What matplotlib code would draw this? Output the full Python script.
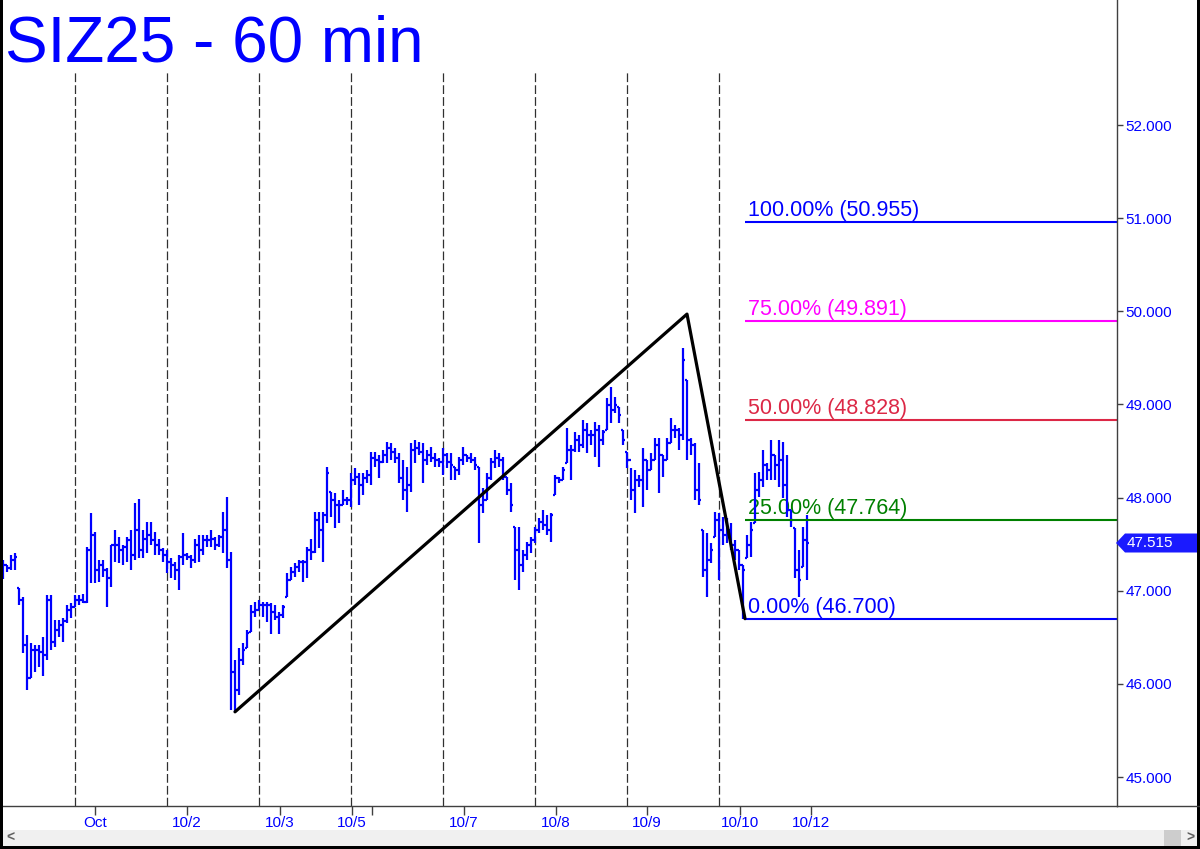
import matplotlib
matplotlib.use("Agg")
import matplotlib.pyplot as plt
from matplotlib.patches import Rectangle, Polygon
from matplotlib.lines import Line2D

plt.rcParams['font.family'] = ['Liberation Sans', 'DejaVu Sans']

TITLE = "SIZ25 - 60 min"

# hourly OHLC bars, oldest first
highs = [
    47.33, 47.28, 47.38, 47.40, 47.03, 46.93, 46.52, 46.44, 46.42, 46.42,
    46.50, 46.95, 46.95, 46.69, 46.69, 46.71, 46.85, 46.87, 46.95, 46.95,
    46.97, 47.47, 47.83, 47.63, 47.33, 47.33, 47.24, 47.49, 47.65, 47.58,
    47.49, 47.58, 47.65, 47.94, 47.98, 47.65, 47.74, 47.74, 47.63, 47.56,
    47.46, 47.44, 47.35, 47.31, 47.38, 47.62, 47.40, 47.38, 47.56, 47.60,
    47.60, 47.60, 47.65, 47.58, 47.60, 47.84, 48.01, 47.42, 46.26, 46.39,
    46.44, 46.58, 46.85, 46.88, 46.90, 46.88, 46.88, 46.87, 46.85, 46.77,
    46.85, 47.19, 47.25, 47.30, 47.33, 47.33, 47.47, 47.56, 47.84, 47.84,
    47.84, 48.33, 48.06, 48.05, 47.97, 48.08, 48.01, 48.26, 48.32, 48.26,
    48.26, 48.30, 48.49, 48.49, 48.46, 48.51, 48.60, 48.59, 48.53, 48.48,
    48.40, 48.33, 48.59, 48.62, 48.60, 48.59, 48.51, 48.54, 48.48, 48.42,
    48.53, 48.48, 48.48, 48.33, 48.44, 48.54, 48.46, 48.48, 48.44, 48.33,
    48.10, 48.26, 48.42, 48.51, 48.48, 48.44, 48.22, 48.16, 47.68, 47.68,
    47.44, 47.52, 47.58, 47.68, 47.78, 47.87, 47.81, 47.83, 48.24, 48.22,
    48.33, 48.75, 48.56, 48.70, 48.67, 48.83, 48.80, 48.73, 48.81, 48.78,
    48.73, 49.07, 49.19, 49.08, 48.97, 48.73, 48.49, 48.32, 48.30, 48.24,
    48.53, 48.40, 48.48, 48.64, 48.64, 48.46, 48.64, 48.85, 48.78, 48.75,
    49.61, 49.26, 48.64, 48.59, 48.37, 47.65, 47.62, 47.51, 47.84, 47.83,
    47.79, 47.78, 47.73, 47.54, 47.44, 47.28, 47.60, 47.74, 48.26, 48.28,
    48.51, 48.37, 48.62, 48.46, 48.62, 48.60, 48.46, 47.87, 47.67, 47.44,
    47.68, 47.81,
]
lows = [
    47.13, 47.20, 47.22, 47.22, 46.85, 46.33, 45.93, 46.06, 46.13, 46.18,
    46.09, 46.26, 46.36, 46.40, 46.50, 46.45, 46.65, 46.71, 46.83, 46.85,
    46.87, 46.87, 47.08, 47.08, 47.09, 47.15, 46.83, 47.04, 47.31, 47.30,
    47.28, 47.31, 47.22, 47.33, 47.35, 47.35, 47.40, 47.49, 47.38, 47.38,
    47.31, 47.19, 47.14, 47.11, 47.01, 47.28, 47.33, 47.24, 47.30, 47.31,
    47.38, 47.47, 47.47, 47.44, 47.47, 47.40, 47.24, 45.72, 45.70, 45.88,
    46.20, 46.39, 46.56, 46.72, 46.79, 46.72, 46.66, 46.54, 46.69, 46.54,
    46.71, 46.93, 47.11, 47.15, 47.20, 47.09, 47.14, 47.33, 47.40, 47.46,
    47.31, 47.73, 47.79, 47.67, 47.73, 47.92, 47.92, 47.90, 48.13, 47.92,
    48.03, 48.16, 48.13, 48.33, 48.21, 48.37, 48.37, 48.40, 48.37, 48.16,
    47.97, 47.84, 48.06, 48.37, 48.46, 48.16, 48.35, 48.38, 48.33, 48.33,
    48.24, 48.32, 48.19, 48.19, 48.24, 48.35, 48.38, 48.37, 48.30, 47.51,
    47.83, 47.97, 48.19, 48.32, 48.33, 48.19, 48.03, 47.84, 47.11, 47.01,
    47.20, 47.33, 47.40, 47.51, 47.62, 47.65, 47.60, 47.52, 48.03, 48.16,
    48.19, 48.37, 48.19, 48.49, 48.49, 48.53, 48.48, 48.56, 48.44, 48.33,
    48.56, 48.73, 48.80, 48.91, 48.80, 48.56, 48.32, 47.97, 47.83, 48.11,
    47.90, 48.08, 48.30, 48.40, 48.05, 48.22, 48.40, 48.59, 48.64, 48.51,
    48.62, 48.40, 48.46, 47.97, 47.92, 47.15, 46.93, 47.30, 47.58, 47.11,
    47.49, 47.51, 47.44, 47.33, 47.22, 46.70, 47.35, 47.36, 47.73, 48.01,
    48.11, 48.19, 48.19, 48.19, 48.11, 48.00, 47.79, 47.68, 47.14, 46.93,
    47.25, 47.11,
]
opens = [
    47.20, 47.28, 47.24, 47.33, 47.03, 46.90, 46.42, 46.06, 46.36, 46.36,
    46.34, 46.31, 46.90, 46.45, 46.58, 46.63, 46.67, 46.79, 46.83, 46.90,
    46.90, 46.88, 47.44, 47.60, 47.22, 47.28, 47.22, 47.14, 47.49, 47.49,
    47.44, 47.47, 47.54, 47.38, 47.65, 47.44, 47.56, 47.60, 47.54, 47.49,
    47.44, 47.38, 47.31, 47.28, 47.22, 47.36, 47.38, 47.36, 47.33, 47.49,
    47.44, 47.54, 47.54, 47.56, 47.49, 47.58, 47.65, 47.33, 46.13, 45.93,
    46.26, 46.39, 46.56, 46.77, 46.79, 46.85, 46.85, 46.85, 46.77, 46.72,
    46.74, 46.93, 47.11, 47.20, 47.25, 47.31, 47.31, 47.44, 47.42, 47.76,
    47.65, 47.81, 48.06, 47.97, 47.92, 47.92, 47.97, 47.97, 48.19, 48.22,
    48.13, 48.21, 48.24, 48.42, 48.40, 48.38, 48.46, 48.53, 48.49, 48.42,
    48.21, 48.08, 48.13, 48.51, 48.53, 48.49, 48.40, 48.46, 48.42, 48.40,
    48.38, 48.46, 48.38, 48.33, 48.30, 48.40, 48.46, 48.42, 48.40, 48.33,
    47.92, 47.97, 48.21, 48.38, 48.42, 48.40, 48.22, 48.08, 47.68, 47.44,
    47.28, 47.38, 47.49, 47.54, 47.65, 47.74, 47.71, 47.65, 48.03, 48.21,
    48.19, 48.37, 48.51, 48.51, 48.62, 48.56, 48.73, 48.67, 48.67, 48.73,
    48.62, 48.73, 48.99, 48.94, 48.97, 48.73, 48.49, 48.40, 48.08, 48.19,
    48.19, 48.40, 48.30, 48.40, 48.56, 48.46, 48.40, 48.59, 48.73, 48.73,
    48.67, 49.26, 48.62, 48.56, 48.08, 47.65, 47.22, 47.33, 47.58, 47.76,
    47.65, 47.60, 47.65, 47.49, 47.44, 47.28, 47.35, 47.49, 47.73, 48.08,
    48.19, 48.35, 48.30, 48.46, 48.35, 48.40, 48.13, 47.87, 47.67, 47.22,
    47.25, 47.54,
]
closes = [
    47.28, 47.24, 47.33, 47.36, 46.90, 46.42, 46.06, 46.36, 46.36, 46.34,
    46.31, 46.90, 46.45, 46.58, 46.63, 46.67, 46.79, 46.83, 46.90, 46.90,
    46.88, 47.44, 47.60, 47.22, 47.28, 47.22, 47.14, 47.49, 47.49, 47.44,
    47.47, 47.54, 47.38, 47.65, 47.44, 47.56, 47.60, 47.54, 47.49, 47.44,
    47.38, 47.31, 47.28, 47.22, 47.36, 47.38, 47.36, 47.33, 47.49, 47.44,
    47.54, 47.54, 47.56, 47.49, 47.58, 47.65, 47.33, 46.13, 45.93, 46.26,
    46.36, 46.55, 46.77, 46.79, 46.85, 46.85, 46.85, 46.77, 46.72, 46.74,
    46.83, 47.11, 47.20, 47.25, 47.31, 47.31, 47.44, 47.42, 47.76, 47.65,
    47.81, 48.26, 47.97, 47.92, 47.92, 47.97, 47.97, 48.19, 48.22, 48.13,
    48.21, 48.24, 48.42, 48.40, 48.38, 48.46, 48.53, 48.49, 48.42, 48.21,
    48.08, 48.13, 48.51, 48.53, 48.49, 48.40, 48.46, 48.42, 48.40, 48.38,
    48.46, 48.38, 48.35, 48.30, 48.40, 48.46, 48.42, 48.40, 48.35, 47.92,
    47.97, 48.21, 48.38, 48.42, 48.40, 48.22, 48.08, 47.92, 47.44, 47.28,
    47.38, 47.49, 47.54, 47.65, 47.74, 47.71, 47.65, 47.81, 48.21, 48.19,
    48.30, 48.51, 48.51, 48.62, 48.56, 48.73, 48.67, 48.67, 48.73, 48.62,
    48.70, 48.99, 48.94, 48.99, 48.89, 48.62, 48.40, 48.08, 48.19, 48.19,
    48.40, 48.30, 48.40, 48.56, 48.46, 48.40, 48.59, 48.73, 48.73, 48.67,
    49.48, 48.62, 48.56, 48.08, 47.97, 47.22, 47.33, 47.44, 47.76, 47.65,
    47.60, 47.65, 47.49, 47.44, 47.28, 47.22, 47.49, 47.65, 48.08, 48.19,
    48.35, 48.30, 48.46, 48.35, 48.40, 48.13, 47.87, 47.76, 47.22, 47.11,
    47.54, 47.515,
]

day_breaks = [18, 41, 64, 87, 110, 133, 156, 179]
date_ticks = [23, 46, 69.25, 87.25, 92.25, 115.25, 138.25, 161, 184.25, 202]
date_labels = ['Oct', '10/2', '10/3', '10/5', '', '10/7', '10/8', '10/9', '10/10', '10/12']
price_ticks = [45, 46, 47, 48, 49, 50, 51, 52]

# A-B-C swing
abc_x = [58, 171, 185.5]
abc_y = [45.70, 49.97, 46.70]

fib_pcts = ['0.00%', '25.00%', '50.00%', '75.00%', '100.00%']
fib_levels = [46.700, 47.764, 48.828, 49.891, 50.955]
fib_colors = ['#0000ff', '#008000', '#dc2846', '#ff00ff', '#0000ff']
last_price = 47.515

BLUE = '#0000ff'
W, H = 1200, 849


def px(x, y):
    return (x / W, 1 - y / H)


fig = plt.figure(figsize=(W / 100, H / 100), dpi=100, facecolor='white')
ax = fig.add_axes([0, 43 / H, 1117 / W, 806 / H])
x_right = 278.5
ax.set_xlim(-0.75, x_right)
ax.set_ylim(44.689, 53.342)

for s in ['left', 'top']:
    ax.spines[s].set_visible(False)
for s in ['right', 'bottom']:
    ax.spines[s].set_color('#404040')
    ax.spines[s].set_linewidth(1)

# day separators
for d in day_breaks:
    ax.axvline(d, ymin=0, ymax=(806 - 72) / 806, color='#303030', lw=0.9,
               dashes=(7, 2.5), zorder=1)

# OHLC bars
idx = list(range(len(highs)))
bar_kw = dict(color=BLUE, lw=1.6, zorder=2)
ax.vlines(idx, lows, highs, **bar_kw)
ax.hlines(opens, [i - 0.5 for i in idx], idx, **bar_kw)
ax.hlines(closes, idx, [i + 0.5 for i in idx], **bar_kw)

ax.plot(abc_x, abc_y, color='black', lw=2.3, solid_capstyle='round',
        solid_joinstyle='round', zorder=3)

cx = abc_x[2]
for pct, lvl, c in zip(fib_pcts, fib_levels, fib_colors):
    ax.hlines(lvl, cx, x_right, color=c, lw=1.5, zorder=2.5)
    ax.annotate(f'{pct} ({lvl:.3f})', xy=(cx, lvl), xytext=(2, 4.3),
                textcoords='offset points', color=c, fontsize=15.5,
                ha='left', va='baseline', zorder=1.5)

ax.yaxis.tick_right()
ax.set_yticks(price_ticks)
ax.set_yticklabels([f'{v:.3f}' for v in price_ticks])
ax.tick_params(axis='y', direction='out', length=4, width=1, color='#404040',
               pad=2, labelsize=11, labelcolor=BLUE)
ax.set_xticks(date_ticks)
ax.set_xticklabels(date_labels)
ax.tick_params(axis='x', direction='out', length=6.5, width=1, color='#404040',
               pad=0.5, labelsize=11, labelcolor=BLUE)

# title
fig.text(*px(5, 62), TITLE, fontsize=46, color=BLUE, ha='left', va='baseline')

# axis line continues under the price scale
fig.add_artist(Line2D([1117 / W, 1], [1 - 806 / H] * 2, color='#404040', lw=1))

# last price tag
tag = Polygon([px(1116, 543), px(1125, 533.5), px(1197, 533.5),
               px(1197, 552.5), px(1125, 552.5)], closed=True,
              transform=fig.transFigure, facecolor='#1a1aff', edgecolor='none')
fig.add_artist(tag)
fig.text(*px(1127, 543), f'{last_price:.3f}', fontsize=11, color='white',
         ha='left', va='center')

# scrollbar
fig.add_artist(Rectangle(px(3, 846), 1194 / W, 16 / H, transform=fig.transFigure,
                         facecolor='#f0f0f0', edgecolor='none'))
fig.add_artist(Rectangle(px(1164, 846), 17 / W, 16 / H, transform=fig.transFigure,
                         facecolor='#cdcdcd', edgecolor='none'))
fig.text(*px(10, 838), '<', fontsize=10, color='#606060', fontweight='bold',
         ha='center', va='center')
fig.text(*px(1190, 838), '>', fontsize=10, color='#606060', fontweight='bold',
         ha='center', va='center')

# window border
fig.add_artist(Rectangle((0, 0), 2.5 / W, 1, transform=fig.transFigure,
                         facecolor='black', edgecolor='none'))
fig.add_artist(Rectangle((1 - 3 / W, 0), 3 / W, 1, transform=fig.transFigure,
                         facecolor='black', edgecolor='none'))
fig.add_artist(Rectangle((0, 0), 1, 3 / H, transform=fig.transFigure,
                         facecolor='black', edgecolor='none'))

fig.savefig('out.png', dpi=100, facecolor='white')
